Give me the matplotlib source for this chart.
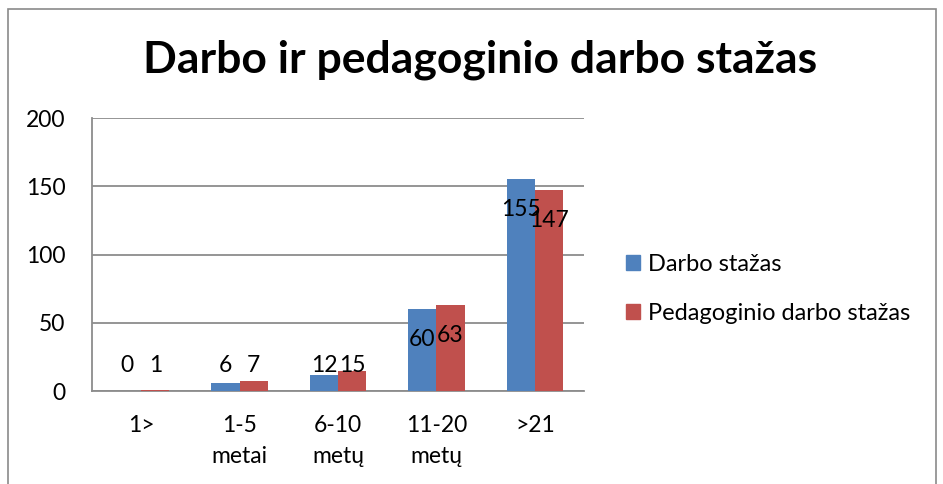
import numpy as np
import matplotlib
matplotlib.use('Agg')
import matplotlib.pyplot as plt
from matplotlib.patches import Rectangle, Patch

# chart data
categories = ['1>', '1-5\nmetai', '6-10\nmetų', '11-20\nmetų', '>21']
darbo = [0, 6, 12, 60, 155]
pedagoginio = [1, 7, 15, 63, 147]
series_names = ['Darbo stažas', 'Pedagoginio darbo stažas']
y_ticks = [0, 50, 100, 150, 200]
title = 'Darbo ir pedagoginio darbo stažas'

BLUE = '#4F81BD'
RED = '#C0504D'
GRID = '#8C8C8C'
FONT = 'Lato'
FS = 16.5

plt.rcParams['font.family'] = [FONT, 'DejaVu Sans']

W, H = 943, 484
fig = plt.figure(figsize=(W / 100, H / 100), dpi=100)

# outer chart border (bottom runs past the image edge)
fig.patches.append(Rectangle((8 / W, -0.05), (936 - 8) / W, 1.05 - 9 / H,
                             transform=fig.transFigure, fill=False,
                             edgecolor='#8A8A8A', linewidth=1.2))

ax = fig.add_axes([92 / W, 1 - 391 / H, (584 - 92) / W, (391 - 118) / H])

x = np.arange(len(categories))
bw = 0.286
b1 = ax.bar(x - bw / 2, darbo, bw, color=BLUE, zorder=3)
b2 = ax.bar(x + bw / 2, pedagoginio, bw, color=RED, zorder=3)

# data labels: just inside the bar top, clamped near the axis for short bars
for bars, vals in [(b1, darbo), (b2, pedagoginio)]:
    for rect, v in zip(bars, vals):
        ypos = max(v - 22, 19)
        ax.text(rect.get_x() + rect.get_width() / 2, ypos, str(v),
                ha='center', va='center', fontsize=FS, zorder=4)

ax.set_xlim(-0.5, len(categories) - 0.5)
ax.set_ylim(0, 200)
ax.set_yticks(y_ticks)
ax.set_xticks(x)
ax.set_xticklabels(categories, linespacing=1.6)
ax.tick_params(axis='y', length=0, pad=19, labelsize=FS)
ax.tick_params(axis='x', length=0, pad=17, labelsize=FS)

ax.grid(axis='y', color=GRID, linewidth=1.3, zorder=0)
for side in ['top', 'right']:
    ax.spines[side].set_visible(False)
ax.spines['left'].set_color(GRID)
ax.spines['bottom'].set_color(GRID)
ax.spines['left'].set_linewidth(1.3)
ax.spines['bottom'].set_linewidth(1.3)

fig.text(480 / W, 1 - 72 / H, title, ha='center', va='baseline',
         fontsize=32, fontweight='bold')

handles = [Patch(color=BLUE), Patch(color=RED)]
fig.legend(handles, series_names, loc='center left',
           bbox_to_anchor=(605 / W, 1 - 289 / H), frameon=False,
           fontsize=FS + 0.5, handlelength=0.6, handleheight=0.6,
           handletextpad=0.3, labelspacing=1.2)

fig.savefig('out.png', dpi=100)
